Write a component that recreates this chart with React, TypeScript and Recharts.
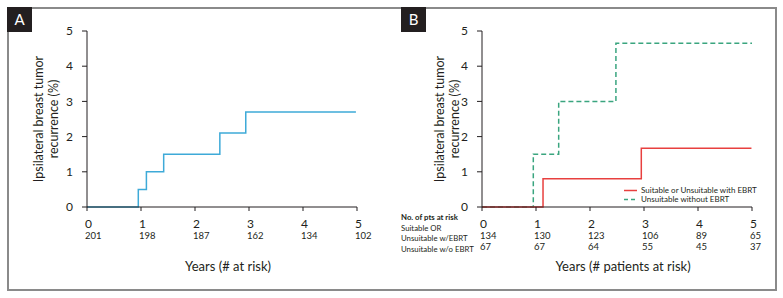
import React from "react";
import { LineChart, Line, XAxis, YAxis } from "recharts";

// Panel A: all patients
const yearTicks = [0, 1, 2, 3, 4, 5];
const yTicks = [0, 1, 2, 3, 4, 5];
const atRiskA = [201, 198, 187, 162, 134, 102];
const timesA = [0, 0.95, 1.1, 1.42, 2.46, 2.94, 4.98];
const valuesA = [0, 0.5, 1.0, 1.5, 2.1, 2.7, 2.7];

// Panel B: by suitability group
const atRiskSuitable = [134, 130, 123, 106, 89, 65];
const atRiskUnsuitable = [67, 67, 64, 55, 45, 37];
const timesWithEbrt = [0, 1.13, 2.95, 4.99];
const valuesWithEbrt = [0, 0.8, 1.67, 1.67];
const timesWithoutEbrt = [0, 0.95, 1.42, 2.48, 5.0];
const valuesWithoutEbrt = [0, 1.5, 3.0, 4.65, 4.65];
const riskRowLabels = ["Suitable OR", "Unsuitable w/EBRT", "Unsuitable w/o EBRT"];

const FONT = "Lato, 'Noto Sans', sans-serif";
const INK = "#231f20";

const toRows = (xs: number[], ys: number[]) => xs.map((x, i) => ({ x, y: ys[i] }));

const dataA = toRows(timesA, valuesA);
const dataWith = toRows(timesWithEbrt, valuesWithEbrt);
const dataWithout = toRows(timesWithoutEbrt, valuesWithoutEbrt);

function RiskTick(props: any, rows: number[][]) {
  const { x, y, payload } = props;
  const i = yearTicks.indexOf(payload.value);
  return (
    <g>
      <text x={x - 2} y={y + 17} fontSize={12} fill={INK} fontFamily={FONT}>
        {payload.value}
      </text>
      {rows.map((r, k) => (
        <text key={k} x={x - 2} y={y + 28 + k * 11} fontSize={9.5} fill={INK} fontFamily={FONT}>
          {r[i]}
        </text>
      ))}
    </g>
  );
}

function YTitle({ left }: { left: number }) {
  return (
    <div
      style={{
        position: "absolute",
        left: left - 70,
        top: 119 - 16,
        width: 140,
        height: 32,
        transform: "rotate(-90deg)",
        textAlign: "center",
        fontFamily: FONT,
        fontSize: 12.5,
        lineHeight: "15px",
        color: INK,
        whiteSpace: "nowrap",
      }}
    >
      Ipsilateral breast tumor
      <br />
      recurrence (%)
    </div>
  );
}

function PanelTag({ left, text }: { left: number; text: string }) {
  return (
    <div
      style={{
        position: "absolute",
        left,
        top: 7,
        width: 25,
        height: 25,
        background: INK,
        color: "#fff",
        fontFamily: FONT,
        fontSize: 15,
        lineHeight: "25px",
        textAlign: "center",
      }}
    >
      {text}
    </div>
  );
}

function XTitle({ center, text }: { center: number; text: string }) {
  return (
    <div
      style={{
        position: "absolute",
        left: center - 100,
        top: 258,
        width: 200,
        textAlign: "center",
        fontSize: 13,
        color: INK,
        whiteSpace: "nowrap",
      }}
    >
      {text}
    </div>
  );
}

const axisProps = {
  stroke: INK,
  tick: { fill: INK, fontSize: 12, fontFamily: FONT },
};

export default function App() {
  return (
    <div
      style={{
        position: "absolute",
        left: 0,
        top: 0,
        width: 783,
        height: 298,
        background: "#fff",
        fontFamily: FONT,
      }}
    >
      <div
        style={{
          position: "absolute",
          left: 7,
          top: 7,
          width: 766,
          height: 280,
          border: "2px solid #8a8a8a",
        }}
      />
      <PanelTag left={7} text="A" />
      <PanelTag left={401} text="B" />

      <div style={{ position: "absolute", left: 0, top: 0 }}>
        <LineChart width={390} height={298} margin={{ top: 31, right: 33, bottom: 31, left: 57 }}>
          <XAxis
            type="number"
            dataKey="x"
            domain={[0, 5]}
            ticks={yearTicks}
            height={60}
            tickSize={4}
            tickMargin={0}
            stroke={INK}
            tick={(p: any) => RiskTick(p, [atRiskA])}
          />
          <YAxis
            type="number"
            domain={[0, 5]}
            ticks={yTicks}
            width={30}
            tickSize={5}
            tickMargin={9}
            {...axisProps}
          />
          <Line
            data={dataA}
            dataKey="y"
            type="stepAfter"
            stroke="#3eaad8"
            strokeWidth={1.5}
            dot={false}
            isAnimationActive={false}
          />
        </LineChart>
      </div>

      <div style={{ position: "absolute", left: 390, top: 0 }}>
        <LineChart width={393} height={298} margin={{ top: 31, right: 31, bottom: 31, left: 62 }}>
          <XAxis
            type="number"
            dataKey="x"
            domain={[0, 5]}
            ticks={yearTicks}
            height={60}
            tickSize={4}
            tickMargin={0}
            stroke={INK}
            tick={(p: any) => RiskTick(p, [atRiskSuitable, atRiskUnsuitable])}
          />
          <YAxis
            type="number"
            domain={[0, 5]}
            ticks={yTicks}
            width={30}
            tickSize={5}
            tickMargin={9}
            {...axisProps}
          />
          <Line
            data={dataWithout}
            dataKey="y"
            type="stepAfter"
            stroke="#3aa57f"
            strokeWidth={1.5}
            strokeDasharray="5 3"
            dot={false}
            isAnimationActive={false}
          />
          <Line
            data={dataWith}
            dataKey="y"
            type="stepAfter"
            stroke="#e8403f"
            strokeWidth={1.5}
            dot={false}
            isAnimationActive={false}
          />
        </LineChart>
      </div>

      <YTitle left={47} />
      <YTitle left={448} />

      <XTitle center={228} text="Years (# at risk)" />
      <XTitle center={623} text="Years (# patients at risk)" />

      <div
        style={{
          position: "absolute",
          left: 401,
          top: 212,
          fontSize: 7.8,
          color: INK,
          lineHeight: "10.5px",
          whiteSpace: "nowrap",
        }}
      >
        <div style={{ fontWeight: "bold" }}>No. of pts at risk</div>
        {riskRowLabels.map((t) => (
          <div key={t}>{t}</div>
        ))}
      </div>

      <div
        style={{
          position: "absolute",
          left: 624,
          top: 186,
          fontSize: 8,
          color: INK,
          lineHeight: "9px",
          whiteSpace: "nowrap",
        }}
      >
        <div style={{ display: "flex", alignItems: "center" }}>
          <svg width={14} height={9}>
            <line x1={0} x2={13} y1={4.5} y2={4.5} stroke="#e8403f" strokeWidth={1.5} />
          </svg>
          <span style={{ marginLeft: 3 }}>Suitable or Unsuitable with EBRT</span>
        </div>
        <div style={{ display: "flex", alignItems: "center" }}>
          <svg width={14} height={9}>
            <line x1={0} x2={13} y1={4.5} y2={4.5} stroke="#3aa57f" strokeWidth={1.5} strokeDasharray="4 3" />
          </svg>
          <span style={{ marginLeft: 3 }}>Unsuitable without EBRT</span>
        </div>
      </div>
    </div>
  );
}
